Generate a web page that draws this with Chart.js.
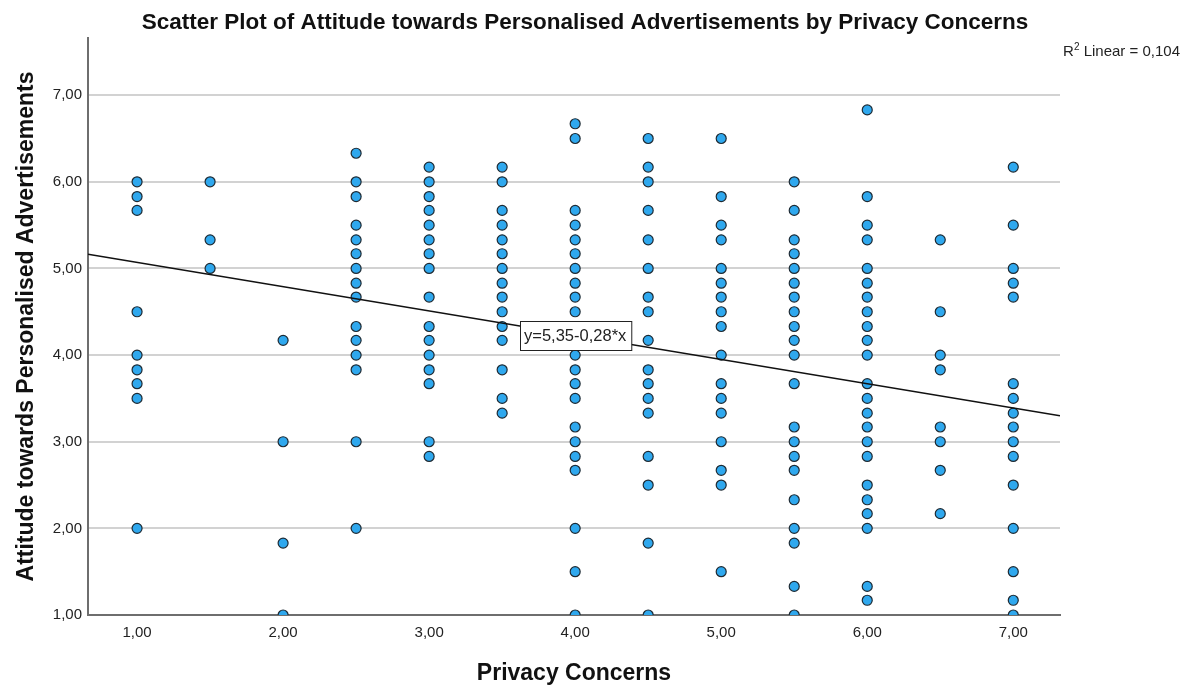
<!DOCTYPE html>
<html>
<head>
<meta charset="utf-8">
<script src="https://cdn.jsdelivr.net/npm/chart.js@4/dist/chart.umd.min.js"></script>
<style>
  html, body { margin: 0; padding: 0; background: #ffffff; }
  #wrap { width: 1192px; height: 691px; position: relative; }
</style>
</head>
<body>
<div id="wrap"><canvas id="chart" width="1192" height="691"></canvas></div>
<script>
// Privacy Concerns scores (x) and the attitude scores observed at each of them (y)
const privacyLevels = [1, 1.5, 2, 2.5, 3, 3.5, 4, 4.5, 5, 5.5, 6, 6.5, 7];

const attitudeAt1_0 = [6.00, 5.83, 5.67, 4.50, 4.00, 3.83, 3.67, 3.50, 2.00];
const attitudeAt1_5 = [6.00, 5.33, 5.00];
const attitudeAt2_0 = [4.17, 3.00, 1.83, 1.00];
const attitudeAt2_5 = [6.33, 6.00, 5.83, 5.50, 5.33, 5.17, 5.00, 4.83, 4.67, 4.33, 4.17, 4.00, 3.83, 3.00, 2.00];
const attitudeAt3_0 = [6.17, 6.00, 5.83, 5.67, 5.50, 5.33, 5.17, 5.00, 4.67, 4.33, 4.17, 4.00, 3.83, 3.67, 3.00, 2.83];
const attitudeAt3_5 = [6.17, 6.00, 5.67, 5.50, 5.33, 5.17, 5.00, 4.83, 4.67, 4.50, 4.33, 4.17, 3.83, 3.50, 3.33];
const attitudeAt4_0 = [6.67, 6.50, 5.67, 5.50, 5.33, 5.17, 5.00, 4.83, 4.67, 4.50, 4.00, 3.83, 3.67, 3.50, 3.17, 3.00, 2.83, 2.67, 2.00, 1.50, 1.00];
const attitudeAt4_5 = [6.50, 6.17, 6.00, 5.67, 5.33, 5.00, 4.67, 4.50, 4.17, 3.83, 3.67, 3.50, 3.33, 2.83, 2.50, 1.83, 1.00];
const attitudeAt5_0 = [6.50, 5.83, 5.50, 5.33, 5.00, 4.83, 4.67, 4.50, 4.33, 4.00, 3.67, 3.50, 3.33, 3.00, 2.67, 2.50, 1.50];
const attitudeAt5_5 = [6.00, 5.67, 5.33, 5.17, 5.00, 4.83, 4.67, 4.50, 4.33, 4.17, 4.00, 3.67, 3.17, 3.00, 2.83, 2.67, 2.33, 2.00, 1.83, 1.33, 1.00];
const attitudeAt6_0 = [6.83, 5.83, 5.50, 5.33, 5.00, 4.83, 4.67, 4.50, 4.33, 4.17, 4.00, 3.67, 3.50, 3.33, 3.17, 3.00, 2.83, 2.50, 2.33, 2.17, 2.00, 1.33, 1.17];
const attitudeAt6_5 = [5.33, 4.50, 4.00, 3.83, 3.17, 3.00, 2.67, 2.17];
const attitudeAt7_0 = [6.17, 5.50, 5.00, 4.83, 4.67, 3.67, 3.50, 3.33, 3.17, 3.00, 2.83, 2.50, 2.00, 1.50, 1.17, 1.00];

// Linear fit reported with the chart
const fitIntercept = 5.35;
const fitSlope = -0.28;
const fitRSquared = 0.104;

// Axis ticks and ranges
const xTickValues = [1, 2, 3, 4, 5, 6, 7];
const yTickValues = [1, 2, 3, 4, 5, 6, 7];
const xRange = [0.664, 7.32];
const yRange = [1, 7.66];

const chartTitle = 'Scatter Plot of Attitude towards Personalised Advertisements by Privacy Concerns';

const attitudeColumns = [
  attitudeAt1_0, attitudeAt1_5, attitudeAt2_0, attitudeAt2_5, attitudeAt3_0, attitudeAt3_5, attitudeAt4_0,
  attitudeAt4_5, attitudeAt5_0, attitudeAt5_5, attitudeAt6_0, attitudeAt6_5, attitudeAt7_0
];

const scatterPoints = [];
privacyLevels.forEach((x, i) => {
  attitudeColumns[i].forEach(y => scatterPoints.push({ x: x, y: y }));
});

const fitAt = x => fitIntercept + fitSlope * x;
const fitLine = [
  { x: xRange[0], y: fitAt(xRange[0]) },
  { x: xRange[1], y: fitAt(xRange[1]) }
];

const comma = (v, d) => v.toFixed(d).replace('.', ',');
const FONT = '"Liberation Sans", Arial, sans-serif';

// Heading, equation box on the fit line and the R² note in the corner
const annotations = {
  id: 'fitAnnotations',
  afterDraw(chart) {
    const { ctx, scales: { x, y } } = chart;
    ctx.save();

    // heading
    ctx.fillStyle = '#111111';
    ctx.font = 'bold 22.5px ' + FONT;
    ctx.textAlign = 'center';
    ctx.textBaseline = 'middle';
    ctx.fillText(chartTitle, 585, 23);

    // equation label centred on the fit line at x = 4
    const eqText = 'y=' + comma(fitIntercept, 2) + (fitSlope < 0 ? '-' : '+') + comma(Math.abs(fitSlope), 2) + '*x';
    ctx.font = '16.5px ' + FONT;
    const tw = ctx.measureText(eqText).width;
    const cx = x.getPixelForValue(4);
    const cy = y.getPixelForValue(fitAt(4));
    const bw = tw + 9, bh = 29;
    const bx = Math.round(cx - bw / 2) + 0.5, by = Math.round(cy - bh / 2) + 0.5;
    ctx.fillStyle = '#ffffff';
    ctx.fillRect(bx, by, bw, bh);
    ctx.strokeStyle = '#222222';
    ctx.lineWidth = 1;
    ctx.strokeRect(bx, by, bw, bh);
    ctx.fillStyle = '#222222';
    ctx.textAlign = 'center';
    ctx.textBaseline = 'middle';
    ctx.fillText(eqText, cx, cy + 1);

    // R² Linear note, right aligned
    const right = 1180, base = 56;
    const tail = ' Linear = ' + comma(fitRSquared, 3);
    ctx.textAlign = 'left';
    ctx.textBaseline = 'alphabetic';
    ctx.font = '15px ' + FONT;
    const wTail = ctx.measureText(tail).width;
    const wR = ctx.measureText('R').width;
    ctx.font = '10px ' + FONT;
    const wSup = ctx.measureText('2').width;
    let px = right - wTail - wSup - wR;
    ctx.font = '15px ' + FONT;
    ctx.fillText('R', px, base);
    px += wR;
    ctx.font = '10px ' + FONT;
    ctx.fillText('2', px, base - 6);
    px += wSup;
    ctx.font = '15px ' + FONT;
    ctx.fillText(tail, px, base);

    ctx.restore();
  }
};

new Chart(document.getElementById('chart'), {
  type: 'scatter',
  data: {
    datasets: [
      {
        label: 'Linear fit',
        data: fitLine,
        showLine: true,
        borderColor: '#111111',
        borderWidth: 1.6,
        pointRadius: 0,
        order: 0
      },
      {
        label: 'Attitude',
        data: scatterPoints,
        pointRadius: 5,
        pointBorderWidth: 1.2,
        pointBackgroundColor: '#2fa8ee',
        pointBorderColor: '#1e2a33',
        order: 1
      }
    ]
  },
  options: {
    responsive: false,
    animation: false,
    devicePixelRatio: 1,
    layout: { padding: { left: 0, right: 132, top: 38, bottom: 0 } },
    plugins: {
      legend: { display: false },
      tooltip: { enabled: false },
      title: { display: false }
    },
    scales: {
      x: {
        type: 'linear',
        min: xRange[0],
        max: xRange[1],
        afterFit(scale) { scale.height = 76; },
        afterBuildTicks(scale) { scale.ticks = xTickValues.map(v => ({ value: v })); },
        ticks: {
          color: '#222222',
          font: { family: FONT, size: 15 },
          padding: 9,
          maxRotation: 0,
          callback: v => comma(v, 2)
        },
        grid: { display: false, drawTicks: false },
        border: { display: true, color: '#6e6e6e', width: 2 },
        title: {
          display: true,
          text: 'Privacy Concerns',
          color: '#111111',
          font: { family: FONT, size: 23, weight: 'bold', lineHeight: 1.2 },
          padding: { top: 0, bottom: 4 }
        }
      },
      y: {
        type: 'linear',
        min: yRange[0],
        max: yRange[1],
        afterFit(scale) { scale.width = 88; },
        afterBuildTicks(scale) { scale.ticks = yTickValues.map(v => ({ value: v })); },
        ticks: {
          color: '#222222',
          font: { family: FONT, size: 15 },
          padding: 6,
          callback: v => comma(v, 2)
        },
        grid: { display: true, drawTicks: false, color: '#d2d2d2', lineWidth: 2 },
        border: { display: true, color: '#6e6e6e', width: 2 },
        title: {
          display: true,
          text: 'Attitude towards Personalised Advertisements',
          color: '#111111',
          font: { family: FONT, size: 23, weight: 'bold', lineHeight: 1.2 },
          padding: { top: 13, bottom: 0 }
        }
      }
    }
  },
  plugins: [annotations]
});
</script>
</body>
</html>
